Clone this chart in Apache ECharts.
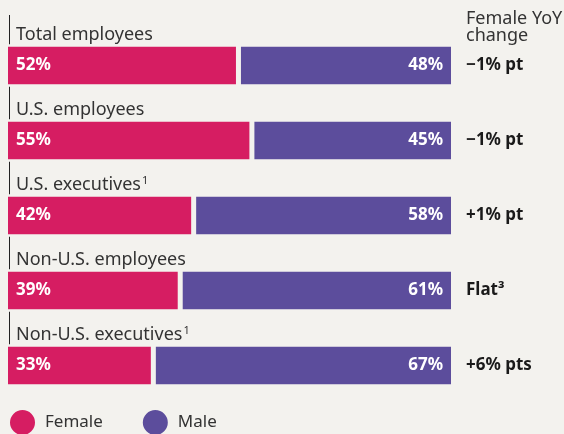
<!DOCTYPE html>
<html>
<head>
<meta charset="utf-8">
<script src="https://cdn.jsdelivr.net/npm/echarts@6/dist/echarts.min.js"></script>
<style>
  html, body { margin: 0; padding: 0; background: #f3f2ee; }
  #chart { width: 564px; height: 434px; }
</style>
</head>
<body>
<div id="chart"></div>
<script>
  // chart data
  const categories = ['Total employees', 'U.S. employees', 'U.S. executives\u00b9', 'Non-U.S. employees', 'Non-U.S. executives\u00b9']
  const femaleShare = [52, 55, 42, 39, 33]
  const maleShare = [48, 45, 58, 61, 67]
  const yoyChange = ['\u22121% pt', '\u22121% pt', '+1% pt', 'Flat\u00b3', '+6% pts']

  const bg = '#f3f2ee'
  const font = '"Noto Sans", sans-serif'

  // category name above the bar, footnote mark drawn smaller
  function categoryLabel(v) {
    let s = '{n|' + v.replace('\u00b9', '') + '}'
    if (v.indexOf('\u00b9') >= 0) s += '{s|1}'
    return s + '\n{g|}'
  }

  const chart = echarts.init(document.getElementById('chart'))
  chart.setOption({
    backgroundColor: bg,
    animation: false,
    title: {
      text: 'Female YoY\nchange',
      left: 466,
      top: 10,
      padding: 0,
      textStyle: { fontFamily: font, fontSize: 18, fontWeight: 'normal', color: '#333', lineHeight: 17 }
    },
    legend: {
      left: 8,
      top: 408,
      padding: 0,
      icon: 'circle',
      itemWidth: 27,
      itemHeight: 27,
      itemGap: 38,
      selectedMode: false,
      textStyle: { fontFamily: font, fontSize: 17, color: '#333', padding: [0, 0, 0, 4] },
      data: ['Female', 'Male']
    },
    grid: { left: 5.5, right: 110.5, top: 28, bottom: 31, containLabel: false },
    xAxis: { type: 'value', min: 0, max: 100, show: false },
    yAxis: [
      {
        type: 'category',
        data: categories,
        inverse: true,
        axisLine: { show: false },
        axisTick: { show: false },
        axisLabel: {
          show: true,
          interval: 0,
          inside: true,
          margin: 10.5,
          align: 'left',
          verticalAlign: 'middle',
          formatter: categoryLabel,
          rich: {
            n: { fontFamily: font, fontSize: 18, color: '#333', lineHeight: 18 },
            s: { fontFamily: font, fontSize: 11, color: '#333', lineHeight: 18, padding: [0, 0, 8, 1] },
            g: { height: 61, lineHeight: 61 }
          }
        }
      },
      {
        type: 'category',
        position: 'right',
        data: yoyChange,
        inverse: true,
        axisLine: { show: false },
        axisTick: { show: false },
        axisLabel: {
          interval: 0,
          margin: 12.5,
          align: 'left',
          fontFamily: font,
          fontSize: 17,
          fontWeight: 'bold',
          color: '#1a1a1a'
        }
      }
    ],
    graphic: [{
      type: 'line',
      z: 0,
      shape: { x1: 9.5, y1: 15, x2: 9.5, y2: 385 },
      style: { stroke: '#222', lineWidth: 1 }
    }],
    series: [
      {
        name: 'Female',
        type: 'bar',
        stack: 'all',
        barWidth: 42.5,
        data: femaleShare,
        itemStyle: { color: '#d61d62', borderColor: bg, borderWidth: 2.5 },
        label: {
          show: true,
          position: 'insideLeft',
          distance: 10.5,
          formatter: '{c}%',
          fontFamily: font,
          fontSize: 17,
          fontWeight: 'bold',
          color: '#fff'
        }
      },
      {
        name: 'Male',
        type: 'bar',
        stack: 'all',
        barWidth: 42.5,
        data: maleShare,
        itemStyle: { color: '#5c4d9c', borderColor: bg, borderWidth: 2.5 },
        label: {
          show: true,
          position: 'insideRight',
          distance: 10.5,
          formatter: '{c}%',
          fontFamily: font,
          fontSize: 17,
          fontWeight: 'bold',
          color: '#fff'
        }
      }
    ]
  })
</script>
</body>
</html>
